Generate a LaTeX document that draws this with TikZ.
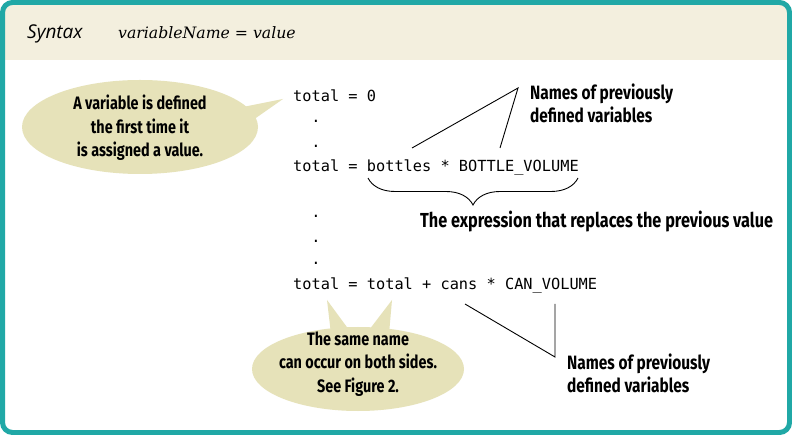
\documentclass[tikz,border=0pt]{standalone}
\usepackage{fontspec}
\setmonofont{DejaVu Sans Mono}
\newfontfamily\handfont[FakeStretch=0.8]{Fira Sans}
\newfontfamily\syntaxfont{Open Sans}
\newfontfamily\protofont{DejaVu Serif}
\usetikzlibrary{decorations.pathreplacing}
\usetikzlibrary{positioning}
\definecolor{frameteal}{RGB}{32,168,166}
\definecolor{headbeige}{RGB}{243,239,222}
\definecolor{bubblefill}{RGB}{230,226,185}

\begin{document}
\begin{tikzpicture}[x=1pt,y=-1pt,
	code/.style={font=\fontsize{15.3}{18}\selectfont\ttfamily, inner sep=0pt, anchor=base west},
	dotrow/.style={font=\fontsize{15.3}{18}\selectfont\ttfamily, inner sep=0pt, anchor=base},
	note/.style={font=\fontsize{19.3}{23}\selectfont\handfont\bfseries, inner sep=0pt, align=left, anchor=west},
	bubbletext/.style={font=\fontsize{18}{23.5}\selectfont\handfont\bfseries, inner sep=0pt, align=center},
	callout/.style={line width=0.9pt}]
				\useasboundingbox (0,0) rectangle (792,435);
				\fill[white] (0,0) rectangle (792,435);
				
				% header band and frame
				\begin{scope}
				\clip[rounded corners=10pt] (2.5,2.5) rectangle (789.5,432.5);
				\fill[headbeige] (0,0) rectangle (792,60);
				\end{scope}
				\draw[frameteal, line width=5pt, rounded corners=10pt] (2.5,2.5) rectangle (789.5,432.5);
				\node[anchor=base west, inner sep=0pt, font=\fontsize{19}{22}\selectfont\syntaxfont\itshape] (syntax) at (27,39) {Syntax};
				\node[anchor=base west, inner sep=0pt, font=\fontsize{15.7}{20}\selectfont\protofont\itshape] (proto) at (118,39) {variableName = value};
				
				% bubbles
				\fill[bubblefill] (140,127) ellipse [x radius=118pt, y radius=47pt];
				\fill[bubblefill] (238,108) -- (283,99) -- (253,120) -- cycle;
				\node[bubbletext] (firsttime) at (140,128) {A variable is defined\\the first time it\\is assigned a value.};
				
				\fill[bubblefill] (358,369) ellipse [x radius=106pt, y radius=42pt];
				\fill[bubblefill] (331,334) -- (327,300) -- (352,334) -- cycle;
				\fill[bubblefill] (366,334) -- (392,300) -- (389,334) -- cycle;
				\node[bubbletext] (samename) at (358,364) {The same name\\can occur on both sides.\\See Figure 2.};
				
				% code
				\node[code] (line1) at (293,102) {total = 0};
				\node[code] (line2) at (293,172) {total = bottles * BOTTLE\_VOLUME};
				\node[code] (line3) at (293,290) {total = total + cans * CAN\_VOLUME};
				\foreach \y in {123,148,218,243,265}
					\node[dotrow] at (316,\y) {.};
				
				% names above
				\coordinate (bottles) at (412,148);
				\coordinate (bvolume) at (500,148);
				\coordinate (apexup) at (518,88);
				\draw[callout] (bottles) -- (apexup) -- (bvolume);
				\node[note] (namesup) at (530,103) {Names of previously\\defined variables};
				
				% brace
				\draw[callout, decorate, decoration={brace, mirror, amplitude=27pt}] (368,178) -- (578,178);
				\node[note, font=\fontsize{20.3}{23}\selectfont\handfont\bfseries] (expr) at (420,222) {The expression that replaces the previous value};
				
				% names below
				\coordinate (cans) at (465,304);
				\coordinate (cvolume) at (555,304);
				\coordinate (apexdown) at (555,357);
				\draw[callout] (cans) -- (apexdown) -- (cvolume);
				\node[note] (namesdown) at (567,373) {Names of previously\\defined variables};
				\end{tikzpicture}
\end{document}
